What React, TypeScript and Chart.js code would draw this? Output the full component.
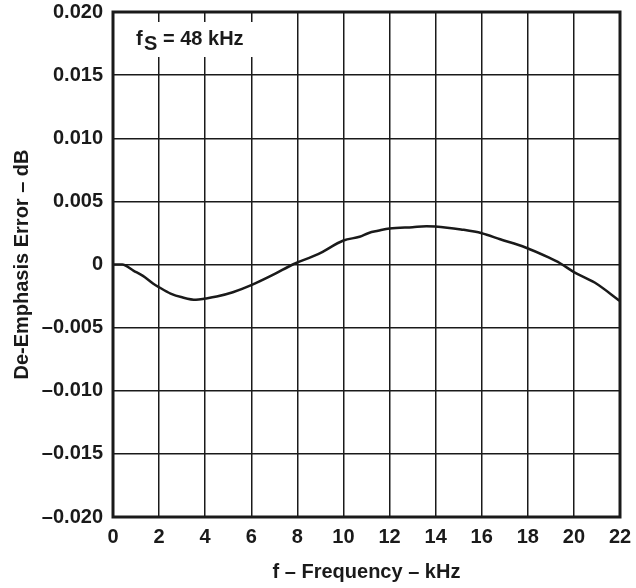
import React, { useEffect, useRef } from "react";
import { Chart, registerables } from "chart.js";

Chart.register(...registerables);

const freqKHz = [0, 0.4, 0.9, 1.3, 1.75, 2.0, 2.5, 3.0, 3.6, 4.0, 4.5, 5.2, 6.0, 7.0, 7.8, 8.9, 10.0, 10.7, 11.1, 11.5, 12.0, 13.0, 13.6, 14.5, 15.1, 16.0, 16.8, 17.9, 18.9, 19.4, 20.0, 20.9, 22.0];
const errorDB = [0, 0, -0.0005, -0.0009, -0.00152, -0.0018, -0.0023, -0.0026, -0.0028, -0.0027, -0.00254, -0.0022, -0.00164, -0.00077, 0, 0.00082, 0.0019, 0.0022, 0.0025, 0.00267, 0.00286, 0.00296, 0.00302, 0.00292, 0.00278, 0.00248, 0.002, 0.00135, 0.00056, 0.0001, -0.0006, -0.00143, -0.0029];

const xTicks = [0, 2, 4, 6, 8, 10, 12, 14, 16, 18, 20, 22];
const yTicks = [-0.02, -0.015, -0.01, -0.005, 0, 0.005, 0.01, 0.015, 0.02];

const xTitle = "f – Frequency – kHz";
const yTitle = "De-Emphasis Error – dB";
const annotationMain = "f";
const annotationSub = "S";
const annotationRest = "= 48 kHz";

const FONT = "'Liberation Sans', Arial, Helvetica, sans-serif";
const INK = "#1a1a1a";

function fmtY(v: number): string {
  if (Math.abs(v) < 1e-9) return "0";
  const s = Math.abs(v).toFixed(3);
  return v < 0 ? "–" + s : s;
}

const framePlugin = {
  id: "frameAndNote",
  afterDraw(chart: any) {
    const { ctx, chartArea } = chart;
    const { left, top, right, bottom } = chartArea;
    ctx.save();
    ctx.fillStyle = "#ffffff";
    ctx.fillRect(left + 13, top + 10, 137, 35);
    ctx.fillStyle = INK;
    ctx.font = `bold 20px ${FONT}`;
    ctx.textBaseline = "alphabetic";
    ctx.textAlign = "left";
    ctx.fillText(annotationMain, left + 23, top + 33);
    ctx.fillText(annotationSub, left + 31, top + 38);
    ctx.fillText(annotationRest, left + 50, top + 33);
    ctx.strokeStyle = INK;
    ctx.lineWidth = 3;
    ctx.strokeRect(left, top, right - left, bottom - top);
    ctx.restore();
  },
};

export default function App() {
  const ref = useRef<HTMLCanvasElement | null>(null);

  useEffect(() => {
    if (!ref.current) return;
    const points = freqKHz.map((f, i) => ({ x: f, y: errorDB[i] }));
    const chart = new Chart(ref.current, {
      type: "line",
      data: {
        datasets: [
          {
            data: points,
            borderColor: INK,
            borderWidth: 2.5,
            pointRadius: 0,
            fill: false,
            cubicInterpolationMode: "monotone",
          },
        ],
      },
      options: {
        animation: false,
        responsive: true,
        maintainAspectRatio: false,
        layout: { padding: { left: 0, right: 16, top: 12, bottom: 0 } },
        plugins: {
          legend: { display: false },
          tooltip: { enabled: false },
        },
        scales: {
          x: {
            type: "linear",
            min: 0,
            max: 22,
            afterBuildTicks: (scale: any) => {
              scale.ticks = xTicks.map((v) => ({ value: v }));
            },
            afterFit: (scale: any) => {
              scale.height = 71;
              scale.paddingLeft = 0;
              scale.paddingRight = 0;
            },
            grid: { color: INK, lineWidth: 1.5, drawTicks: false },
            border: { display: false },
            ticks: {
              color: INK,
              padding: 8,
              maxRotation: 0,
              autoSkip: false,
              font: { family: FONT, size: 20, weight: "bold" },
              callback: (v: any) => String(v),
            },
            title: {
              display: true,
              text: xTitle,
              color: INK,
              font: { family: FONT, size: 20, weight: "bold" },
              padding: { top: 0, bottom: 4 },
            },
          },
          y: {
            type: "linear",
            min: -0.02,
            max: 0.02,
            afterBuildTicks: (scale: any) => {
              scale.ticks = yTicks.map((v) => ({ value: v }));
            },
            afterFit: (scale: any) => {
              scale.width = 113;
              scale.paddingTop = 0;
              scale.paddingBottom = 0;
            },
            grid: { color: INK, lineWidth: 1.5, drawTicks: false },
            border: { display: false },
            ticks: {
              color: INK,
              padding: 10,
              autoSkip: false,
              font: { family: FONT, size: 20, weight: "bold" },
              callback: (v: any) => fmtY(Number(v)),
            },
            title: {
              display: true,
              text: yTitle,
              color: INK,
              font: { family: FONT, size: 20, weight: "bold" },
              padding: { top: 10, bottom: 0 },
            },
          },
        },
      },
      plugins: [framePlugin],
    });
    return () => chart.destroy();
  }, []);

  return (
    <div style={{ position: "fixed", left: 0, top: 0, width: 636, height: 588, background: "#fff" }}>
      <canvas ref={ref} />
    </div>
  );
}
